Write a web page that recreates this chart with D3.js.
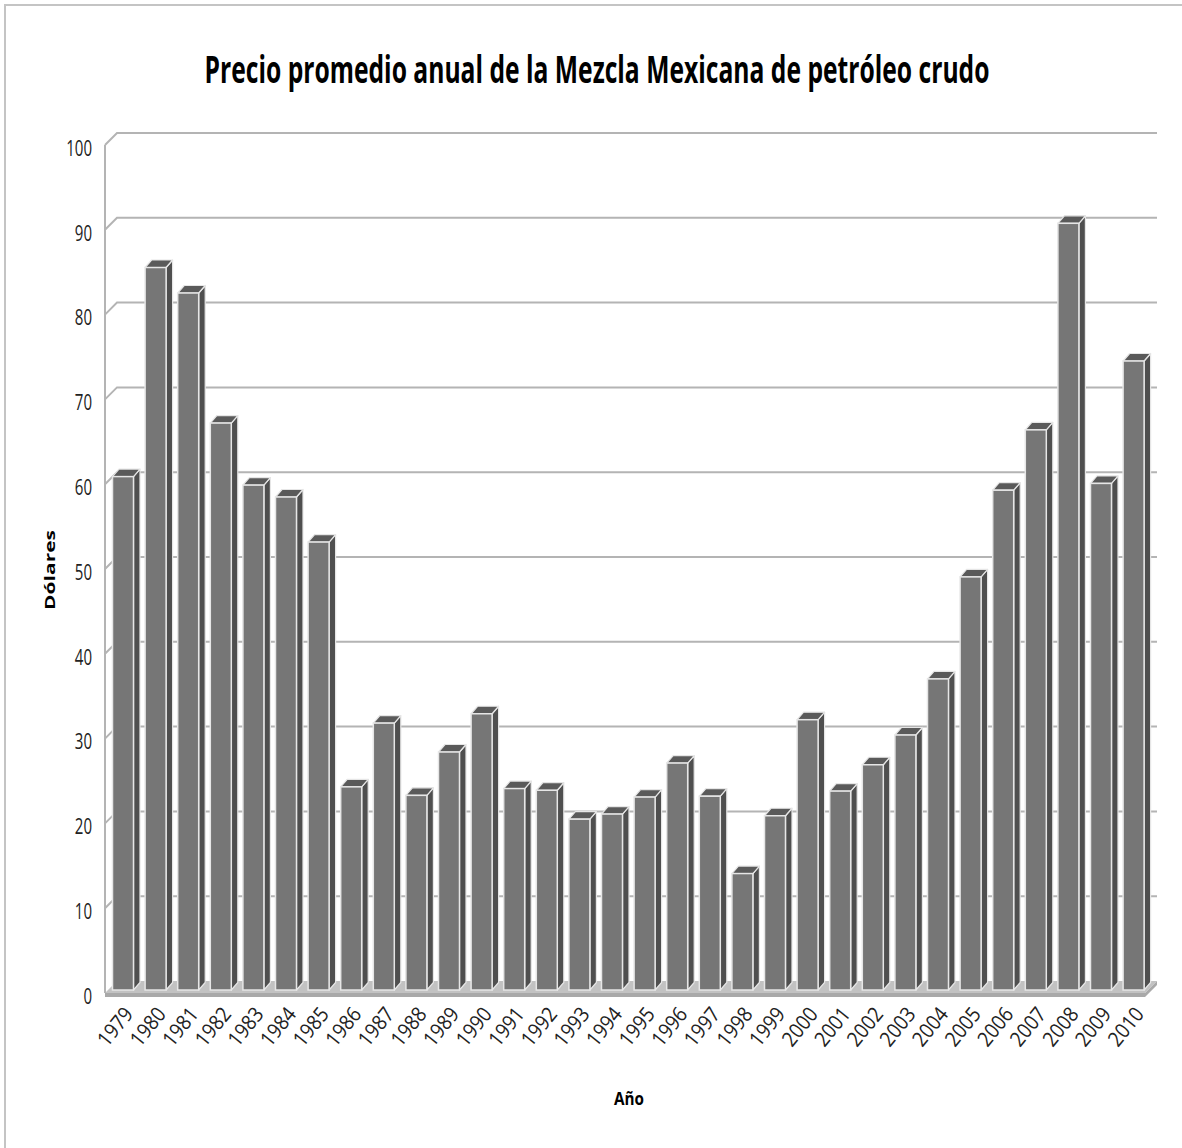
<!DOCTYPE html>
<html>
<head>
<meta charset="utf-8">
<script src="https://cdn.jsdelivr.net/npm/d3@7"></script>
<style>
  html, body { margin: 0; padding: 0; background: #ffffff; }
  svg { display: block; }
</style>
</head>
<body>
<svg id="chart" width="1182" height="1148"></svg>
<script>
// Precio promedio anual de la Mezcla Mexicana (dólares)
const years = ["1979","1980","1981","1982","1983","1984","1985","1986","1987","1988",
               "1989","1990","1991","1992","1993","1994","1995","1996","1997","1998",
               "1999","2000","2001","2002","2003","2004","2005","2006","2007","2008",
               "2009","2010"];
const prices = [60.4, 85.0, 82.0, 66.7, 59.4, 58.0, 52.7, 23.9, 31.4, 22.9,
                28.0, 32.5, 23.7, 23.5, 20.1, 20.7, 22.7, 26.7, 22.8, 13.7,
                20.5, 31.8, 23.4, 26.5, 30.0, 36.6, 48.6, 58.8, 65.9, 90.2,
                59.6, 74.0];
const yTicks = [0, 10, 20, 30, 40, 50, 60, 70, 80, 90, 100];

const titleText = "Precio promedio anual de la Mezcla Mexicana de petróleo crudo";
const xTitle = "Año";
const yTitle = "Dólares";

const svg = d3.select("#chart");
const FONT = "'Open Sans', 'Liberation Sans', sans-serif";

// narrow a text horizontally to a target width, keeping its anchor point
function squeeze(sel, cx, cy, width, extra) {
  sel.each(function () {
    const w = this.getComputedTextLength();
    const s = w > 0 ? width / w : 1;
    d3.select(this).attr("transform", `translate(${cx},${cy}) ${extra || ""} scale(${s},1)`);
  });
}

// chart frame
svg.append("path")
  .attr("d", "M5,1148 L5,5 L1182,5")
  .attr("fill", "none").attr("stroke", "#c4c4c4").attr("stroke-width", 2);

// 3D geometry: front plane of the left wall and its depth offset
const wallX = 105, wallRight = 1145;
const depthX = 12, depthY = -12;
const yFront = d3.scaleLinear().domain([0, 100]).range([993, 145]);

// bar plane (slightly behind the front edge)
const yBar = d3.scaleLinear().domain([0, 100]).range([990, 140]);
const x = d3.scaleBand().domain(years).range([106.7, 1149.9])
  .paddingInner(0.356).paddingOuter(0.178);
const barDX = 6.5, barDY = -7.5;

// floor plate
const floor = svg.append("g");
floor.append("path")
  .attr("d", `M${wallX},${yFront(0)} L${wallX + depthX},${yFront(0) + depthY} L${wallRight + depthX},${yFront(0) + depthY} L${wallRight},${yFront(0)} Z`)
  .attr("fill", "#c2c2c2");
floor.append("path")
  .attr("d", `M${wallX},${yFront(0)} L${wallRight},${yFront(0)} L${wallRight + depthX},${yFront(0) + depthY} L${wallRight + depthX},${yFront(0) + depthY + 4} L${wallRight},${yFront(0) + 4} L${wallX},${yFront(0) + 4} Z`)
  .attr("fill", "#a9a9a9");

// gridlines on the back wall with their left-wall diagonals
const grid = svg.append("g").attr("stroke", "#b4b4b4").attr("stroke-width", 2).attr("fill", "none");
grid.selectAll("path.g").data(yTicks.filter(d => d > 0)).join("path")
  .attr("class", "g")
  .attr("d", d => `M${wallX},${yFront(d)} L${wallX + depthX},${yFront(d) + depthY} L${wallRight + depthX},${yFront(d) + depthY}`);

// left axis line
grid.append("line")
  .attr("x1", wallX).attr("x2", wallX)
  .attr("y1", yFront(100)).attr("y2", yFront(0));

// bars
const bars = svg.append("g").selectAll("g.bar")
  .data(years.map((y, i) => ({ year: y, value: prices[i] })))
  .join("g").attr("class", "bar");

bars.append("path") // side face
  .attr("d", d => {
    const x0 = x(d.year) + x.bandwidth(), t = yBar(d.value), b = yBar(0);
    return `M${x0},${t} L${x0 + barDX},${t + barDY} L${x0 + barDX},${b + barDY} L${x0},${b} Z`;
  })
  .attr("fill", "#4f4f4f").attr("stroke", "#e6e6e6").attr("stroke-width", 1.2).attr("stroke-linejoin", "round");

bars.append("path") // top face
  .attr("d", d => {
    const x0 = x(d.year), w = x.bandwidth(), t = yBar(d.value);
    return `M${x0},${t} L${x0 + barDX},${t + barDY} L${x0 + w + barDX},${t + barDY} L${x0 + w},${t} Z`;
  })
  .attr("fill", "#5a5a5a").attr("stroke", "#e6e6e6").attr("stroke-width", 1.2).attr("stroke-linejoin", "round");

bars.append("rect") // front face
  .attr("x", d => x(d.year))
  .attr("y", d => yBar(d.value))
  .attr("width", x.bandwidth())
  .attr("height", d => yBar(0) - yBar(d.value))
  .attr("fill", "#767676").attr("stroke", "#e6e6e6").attr("stroke-width", 1.5);

// y tick labels
svg.append("g").selectAll("text").data(yTicks).join("text")
  .attr("text-anchor", "end")
  .attr("dominant-baseline", "middle")
  .attr("font-family", FONT).attr("font-size", 22).attr("fill", "#222")
  .text(d => d)
  .each(function (d) {
    squeeze(d3.select(this), 92, yFront(d) + 5, String(d).length * 8.6);
  });

// x tick labels (rotated)
svg.append("g").selectAll("text").data(years).join("text")
  .attr("text-anchor", "end")
  .attr("dominant-baseline", "middle")
  .attr("font-family", FONT).attr("font-size", 21).attr("fill", "#222")
  .text(d => d)
  .each(function (d) {
    squeeze(d3.select(this), x(d) + x.bandwidth() / 2 + 7, 1011, 43, "rotate(-51)");
  });

// title
svg.append("text")
  .attr("text-anchor", "middle")
  .attr("font-family", FONT).attr("font-weight", "bold").attr("font-size", 37).attr("fill", "#000")
  .text(titleText)
  .call(squeeze, 597, 83, 785);

// axis titles
svg.append("text")
  .attr("text-anchor", "middle").attr("dominant-baseline", "middle")
  .attr("font-family", FONT).attr("font-weight", "bold").attr("font-size", 18).attr("fill", "#000")
  .text(xTitle)
  .call(squeeze, 629, 1100, 30);

svg.append("text")
  .attr("text-anchor", "middle").attr("dominant-baseline", "middle")
  .attr("font-family", FONT).attr("font-weight", "bold").attr("font-size", 15).attr("fill", "#000")
  .text(yTitle)
  .call(squeeze, 51, 570, 80, "rotate(-90)");
</script>
</body>
</html>
